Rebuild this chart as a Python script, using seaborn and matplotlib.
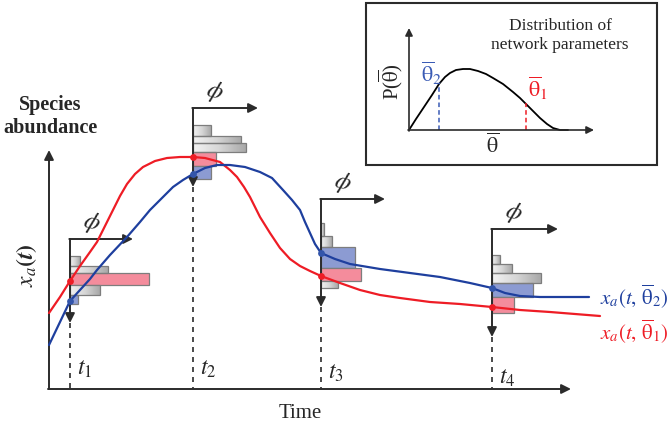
import numpy as np
import seaborn as sns
import matplotlib.pyplot as plt
from matplotlib.colors import LinearSegmentedColormap

sns.set_theme(style="white")
plt.rcParams['font.family'] = ['Liberation Serif', 'DejaVu Serif']
plt.rcParams['mathtext.fontset'] = 'stix'

# curves (pixel coords, y grows downward)
red_x = [49, 60, 70, 80, 90, 97, 105, 113, 120, 127, 135, 143, 155, 167, 180, 193, 205, 220, 230, 237,
         244, 250, 255, 260, 265, 270, 280, 290, 300, 310, 321, 340, 360, 380, 400, 430, 460, 492, 520, 550, 575, 600]
red_y = [313, 297, 281, 266, 252, 242, 226, 210, 196, 184, 174, 167, 161, 158, 157, 157, 158, 162, 170, 177,
         187, 197, 207, 217, 225, 233, 248, 259, 266, 271, 276, 283, 290, 295, 298, 302, 304, 307, 310, 312, 314, 316]
blue_x = [49, 60, 70, 80, 90, 97, 110, 127, 140, 150, 162, 173, 183, 193, 205, 217, 230, 245, 260, 272,
          283, 292, 300, 305, 310, 315, 321, 335, 350, 380, 410, 440, 470, 492, 505, 520, 540, 565, 589]
blue_y = [345, 322, 301, 290, 279, 270, 255, 237, 222, 210, 198, 187, 180, 174, 168, 165, 165, 167, 172, 178,
          190, 200, 210, 222, 233, 244, 253, 259, 264, 269, 273, 277, 283, 288, 293, 296, 297, 297, 297]

# sampling times and the states of the two curves there
t_x = [70, 193, 321, 492]
t_labels = ['$t_1$', '$t_2$', '$t_3$', '$t_4$']
t_label_y = [369, 369, 373, 378]
red_dot_y = [281, 157, 276, 307]
blue_dot_y = [301, 174, 253, 288]
frame_top = [239, 108, 199, 229]
frame_right = [133, 258, 385, 558]
arrow_tip = [323, 187, 307, 337]

# histogram bars per time: (top, bottom, right end, kind)
hist_bars = [
    [(256, 266, 80, 'g'), (266, 273, 108, 'g'), (273, 285, 149, 'r'), (285, 295, 100, 'g'), (295, 304, 78, 'b')],
    [(125, 136, 211, 'g'), (136, 143, 241, 'g'), (143, 152, 246, 'g'), (152, 166, 216, 'r'), (166, 179, 211, 'b')],
    [(223, 236, 324, 'g'), (236, 247, 332, 'g'), (247, 268, 355, 'b'), (268, 281, 361, 'r'), (281, 288, 338, 'g')],
    [(255, 264, 500, 'g'), (264, 273, 512, 'g'), (273, 283, 541, 'g'), (283, 297, 533, 'b'), (297, 313, 514, 'r')],
]

# inset distribution curve
dist_x = [409, 416, 424, 432, 439, 445, 450, 456, 463, 470, 478, 486, 493, 503, 513, 520, 526, 533,
          540, 547, 553, 560, 568]
dist_y = [130, 119, 107, 95, 84, 77, 73, 70, 69, 69, 71, 74, 78, 84, 92, 98, 104, 111, 118, 124, 128, 130, 130]
theta2_x, theta2_top = 439, 83
theta1_x, theta1_top = 526, 103

RED = '#ee1c25'
BLUE = '#1e3f9e'
DARK = '#2b2b2b'
bar_face = {'r': '#f48c9c', 'b': '#8c9bd2'}
gray_cmap = LinearSegmentedColormap.from_list('bargray', ['#f2f2f2', '#d6d6d6', '#a9a9a9'])

fig = plt.figure(figsize=(6.71, 4.28), dpi=100)
ax = fig.add_axes([0, 0, 1, 1])
ax.axis('off')

arw = dict(arrowstyle='-|>', color=DARK, lw=1.4, mutation_scale=14, shrinkA=0, shrinkB=0)

# main axes
ax.annotate('', xy=(49, 150), xytext=(49, 389), arrowprops=arw)
ax.annotate('', xy=(571, 389), xytext=(48, 389), arrowprops=arw)

grad = np.linspace(0, 1, 64).reshape(1, -1)
for i, t in enumerate(t_x):
    for top, bot, right, kind in hist_bars[i]:
        if kind == 'g':
            b = ax.barh((top + bot) / 2, right - t, height=bot - top, left=t, color='none',
                        edgecolor='#7d7d7d', lw=0.9, zorder=3)
            im = ax.imshow(grad, cmap=gray_cmap, vmin=0, vmax=1, aspect='auto',
                           extent=(t, right, bot, top), zorder=2)
            im.set_clip_path(b.patches[0])
        else:
            ax.barh((top + bot) / 2, right - t, height=bot - top, left=t, color=bar_face[kind],
                    edgecolor='#7d7d7d', lw=0.9, zorder=2)
    # frame arrows
    ax.annotate('', xy=(frame_right[i], frame_top[i]), xytext=(t - 0.7, frame_top[i]), arrowprops=arw, zorder=5)
    ax.annotate('', xy=(t, arrow_tip[i]), xytext=(t, frame_top[i]), arrowprops=arw, zorder=5)
    ax.plot([t, t], [arrow_tip[i], 388], color=DARK, lw=1.2, ls=(0, (3, 3)), zorder=1)
    ax.text(t + 22, frame_top[i] - 16, r'$\phi$', fontsize=18, ha='center', va='center', rotation=-15, zorder=6)
    ax.text(t + 15, t_label_y[i], t_labels[i], fontsize=17, ha='center', va='center')

sns.lineplot(x=red_x, y=red_y, sort=False, color=RED, lw=1.6, ax=ax, zorder=6)
sns.lineplot(x=blue_x, y=blue_y, sort=False, color=BLUE, lw=1.6, ax=ax, zorder=6)
ax.scatter(t_x, red_dot_y, s=24, color=RED, zorder=8, linewidths=0)
ax.scatter(t_x, blue_dot_y, s=24, color='#3355aa', zorder=8, linewidths=0)

ax.text(600, 296, r'$x_a(t,\,\overline{\mathrm{\theta}}_2)$', color=BLUE, fontsize=15, ha='left', va='center')
ax.text(600, 331, r'$x_a(t,\,\overline{\mathrm{\theta}}_1)$', color=RED, fontsize=15, ha='left', va='center')

ax.text(50, 116, 'Species\nabundance', fontsize=14.5, fontweight='bold', ha='center', va='center', linespacing=1.2)
ax.text(27, 265, r'$\boldsymbol{x_a(t)}$', fontsize=17, rotation=90, ha='center', va='center')
ax.text(300, 414, 'Time', fontsize=15, ha='center', va='center')

# inset
ax.add_patch(plt.Rectangle((366, 3), 291, 162, fill=False, edgecolor=DARK, lw=1.5))
arw2 = dict(arrowstyle='-|>', color=DARK, lw=1.2, mutation_scale=11, shrinkA=0, shrinkB=0)
ax.annotate('', xy=(409, 28), xytext=(409, 131), arrowprops=arw2)
ax.annotate('', xy=(594, 130), xytext=(408, 130), arrowprops=arw2)
sns.lineplot(x=dist_x, y=dist_y, sort=False, color='black', lw=1.3, ax=ax)
ax.plot([theta2_x, theta2_x], [130, theta2_top], color='#3a5bb5', lw=1.1, ls=(0, (3, 2)))
ax.plot([theta1_x, theta1_x], [130, theta1_top], color=RED, lw=1.1, ls=(0, (3, 2)))
ax.text(431, 73, r'$\overline{\mathrm{\theta}}_2$', color='#3a5bb5', fontsize=16, ha='center', va='center')
ax.text(538, 88, r'$\overline{\mathrm{\theta}}_1$', color=RED, fontsize=16, ha='center', va='center')
ax.text(391, 82, r'P($\overline{\mathrm{\theta}}$)', fontsize=15, rotation=90, ha='center', va='center')
ax.text(493, 146, r'$\overline{\mathrm{\theta}}$', fontsize=16, ha='center', va='center')
ax.text(560, 35, 'Distribution of\nnetwork parameters', fontsize=12.5, ha='center', va='center',
        linespacing=1.25)

ax.set_xlim(0, 671)
ax.set_ylim(428, 0)
fig.savefig('out.png', dpi=100)
